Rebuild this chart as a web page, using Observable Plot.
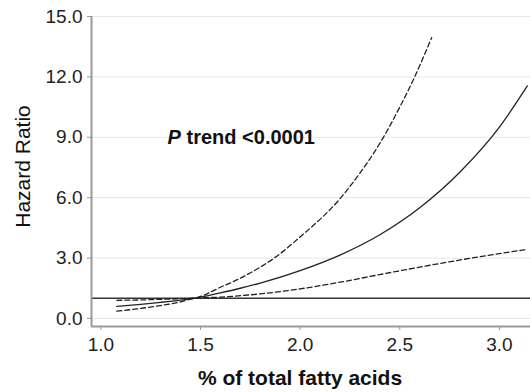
<!DOCTYPE html>
<html><head><meta charset="utf-8">
<script src="https://cdn.jsdelivr.net/npm/d3@7"></script>
<script src="https://cdn.jsdelivr.net/npm/@observablehq/plot@0.6"></script>
<style>body{margin:0;background:#fff;} #chart svg{display:block;}</style>
</head><body><div id="chart"></div>
<script>
// ---- data ----
const pctX    = [1.08, 1.2, 1.3, 1.4, 1.47, 1.6, 1.7, 1.8, 2.0, 2.2, 2.4, 2.6, 2.8, 3.0, 3.14];
const hr      = [0.60, 0.70, 0.80, 0.91, 1.00, 1.27, 1.50, 1.76, 2.38, 3.15, 4.16, 5.50, 7.25, 9.50, 11.55];
const lowerCI = [0.36, 0.50, 0.64, 0.82, 1.00, 1.06, 1.13, 1.22, 1.47, 1.80, 2.18, 2.55, 2.90, 3.22, 3.43];
const upperX  = [1.08, 1.2, 1.3, 1.4, 1.47, 1.6, 1.7, 1.8, 1.87, 2.0, 2.2, 2.3, 2.4, 2.5, 2.57, 2.66];
const upperCI = [0.90, 0.92, 0.95, 0.98, 1.02, 1.55, 2.00, 2.55, 3.00, 4.05, 5.95, 7.22, 8.70, 10.5, 11.9, 13.95];
const refHR   = [1];
const xTicks  = [1.0, 1.5, 2.0, 2.5, 3.0];
const yTicks  = [0, 3, 6, 9, 12, 15];
const xDomain = [0.953, 3.156];
const yDomain = [-0.4, 15];
const xLabel  = "% of total fatty acids";
const yLabel  = "Hazard Ratio";
const annotText = "P trend <0.0001";
const annotX = [1.335];
const annotY = [9.0];

const rows = (xs, ys) => xs.map((x, i) => ({x, y: ys[i]}));
const annot = annotX.map((x, i) => ({x, y: annotY[i], t: annotText}));
const fmt = d3.format(".1f");
const font = "'Liberation Sans', Arial, Helvetica, sans-serif";

const plot = Plot.plot({
  width: 530, height: 392,
  marginLeft: 91, marginRight: 0, marginTop: 16, marginBottom: 66,
  style: {fontFamily: font, fontSize: "19px", color: "#222", background: "#fff"},
  x: {domain: xDomain, label: null},
  y: {domain: yDomain, label: null},
  marks: [
    Plot.gridY(yTicks, {stroke: "#e8e8e8", strokeOpacity: 1, strokeWidth: 1}),
    Plot.ruleY(refHR, {stroke: "#333", strokeWidth: 1.6}),
    Plot.line(rows(pctX, lowerCI), {x: "x", y: "y", curve: "monotone-x", stroke: "#222", strokeWidth: 1.3, strokeDasharray: "5,3"}),
    Plot.line(rows(upperX, upperCI), {x: "x", y: "y", curve: "monotone-x", stroke: "#222", strokeWidth: 1.3, strokeDasharray: "5,3"}),
    Plot.line(rows(pctX, hr), {x: "x", y: "y", curve: "monotone-x", stroke: "#222", strokeWidth: 1.3}),
    Plot.ruleX([xDomain[0]], {stroke: "#9a9a9a", strokeWidth: 2}),
    Plot.ruleY([yDomain[0]], {stroke: "#9a9a9a", strokeWidth: 2}),
    Plot.axisY(yTicks, {tickSize: 4, tickPadding: 5, stroke: "#9a9a9a", fill: "#222", fontSize: 19, tickFormat: fmt, label: null}),
    Plot.axisX(xTicks, {tickSize: 4, tickPadding: 7, stroke: "#9a9a9a", fill: "#222", fontSize: 19, tickFormat: fmt, label: null}),
    Plot.text([yLabel], {text: d => d, frameAnchor: "left", textAnchor: "middle", lineAnchor: "middle", dx: -68, dy: -5, rotate: -90, fontSize: 21, fill: "#111"}),
    Plot.text([xLabel], {text: d => d, frameAnchor: "bottom", textAnchor: "middle", lineAnchor: "middle", dx: -11, dy: 52, fontSize: 21, fontWeight: "bold", fill: "#111"}),
    Plot.text(annot, {x: "x", y: "y", text: "t", textAnchor: "start", fontSize: 20, fontWeight: "bold", fill: "#111"})
  ]
});
document.getElementById("chart").appendChild(plot);

// italic P in the annotation
d3.select(plot).selectAll("text").filter(function() { return this.textContent === annotText; })
  .each(function() {
    const t = d3.select(this);
    t.text(null);
    t.append("tspan").attr("font-style", "italic").text(annotText.slice(0, 1));
    t.append("tspan").text(annotText.slice(1));
  });
</script>
</body></html>
